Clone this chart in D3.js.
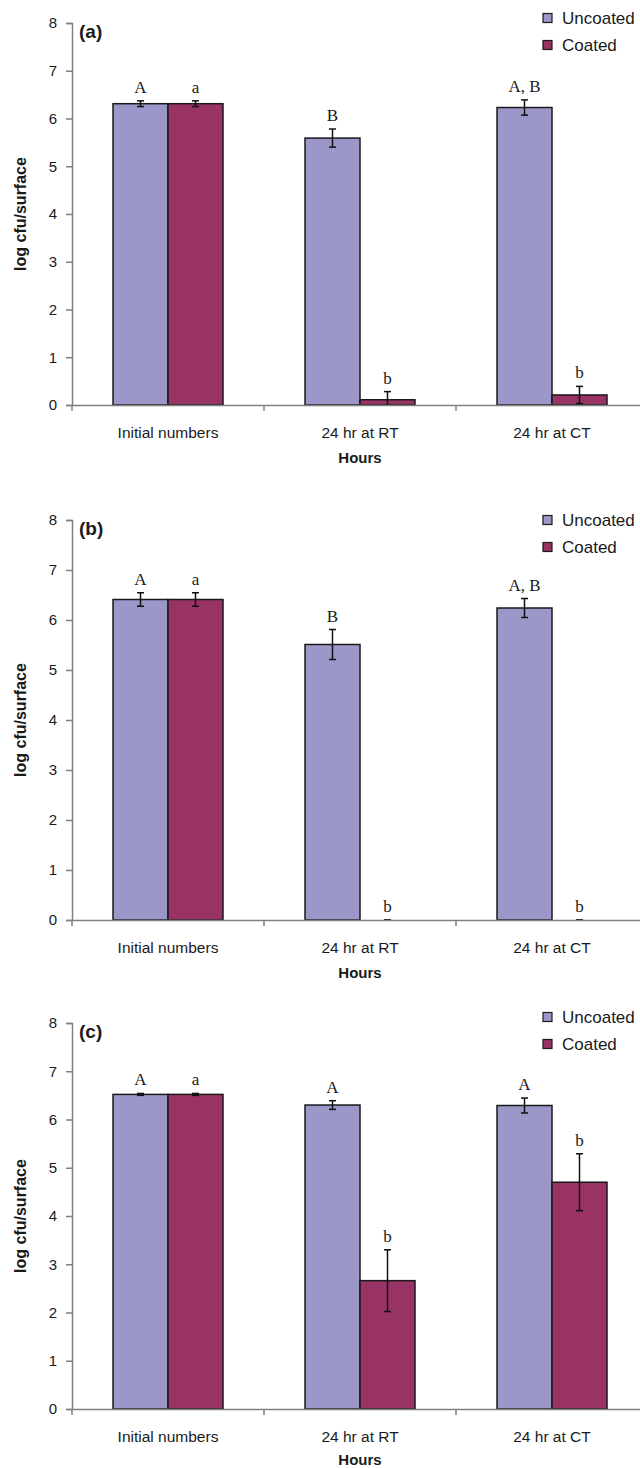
<!doctype html>
<html lang="en">
<head>
<meta charset="utf-8">
<title>log cfu/surface</title>
<script src="https://d3js.org/d3.v7.min.js"></script>
<style>
  body { margin: 0; background: #fff; }
  text { font-family: "Liberation Sans", Arial, sans-serif; fill: #1a1a1a; }
  .letter { font-family: "Liberation Serif", "Times New Roman", serif; font-size: 17px; }
</style>
</head>
<body>
<script>
// ---- data ----
var categories = ["Initial numbers", "24 hr at RT", "24 hr at CT"];
var series = ["Uncoated", "Coated"];
var panelLabels = ["(a)", "(b)", "(c)"];
var yTicks = [0, 1, 2, 3, 4, 5, 6, 7, 8];

var uncoatedA = [6.31, 5.59, 6.23];
var uncoatedErrA = [0.06, 0.19, 0.16];
var coatedA = [6.31, 0.11, 0.21];
var coatedErrA = [0.06, 0.17, 0.18];
var uncoatedLettersA = ["A", "B", "A, B"];
var coatedLettersA = ["a", "b", "b"];

var uncoatedB = [6.41, 5.51, 6.24];
var uncoatedErrB = [0.135, 0.30, 0.19];
var coatedB = [6.41, 0, 0];
var coatedErrB = [0.135, 0, 0];
var uncoatedLettersB = ["A", "B", "A, B"];
var coatedLettersB = ["a", "b", "b"];

var uncoatedC = [6.52, 6.30, 6.29];
var uncoatedErrC = [0.02, 0.09, 0.155];
var coatedC = [6.52, 2.66, 4.70];
var coatedErrC = [0.02, 0.64, 0.59];
var uncoatedLettersC = ["A", "A", "A"];
var coatedLettersC = ["a", "b", "b"];

var colors = ["#9b98c9", "#993366"];

// one entry per panel: values + where it sits on the page
var panels = [
  { label: panelLabels[0], top: 23, bottom: 405, legendY: 18, hoursY: 463,
    vals: [uncoatedA, coatedA], errs: [uncoatedErrA, coatedErrA], letters: [uncoatedLettersA, coatedLettersA] },
  { label: panelLabels[1], top: 520, bottom: 920, legendY: 520, hoursY: 978,
    vals: [uncoatedB, coatedB], errs: [uncoatedErrB, coatedErrB], letters: [uncoatedLettersB, coatedLettersB] },
  { label: panelLabels[2], top: 1023, bottom: 1409, legendY: 1017, hoursY: 1465,
    vals: [uncoatedC, coatedC], errs: [uncoatedErrC, coatedErrC], letters: [uncoatedLettersC, coatedLettersC] }
];

var width = 640, height = 1468;
var left = 72, right = 648;

var svg = d3.select("body").append("svg")
  .attr("width", width)
  .attr("height", height);

var x0 = d3.scaleBand().domain(categories).range([left, right]).padding(0);
var x1 = d3.scaleBand().domain(series).range([41, 151]).padding(0);

panels.forEach(function(p) {
  var y = d3.scaleLinear().domain([0, 8]).range([p.bottom, p.top]);
  var g = svg.append("g");

  // y axis
  var yAxis = g.append("g")
    .attr("transform", "translate(" + left + ",0)")
    .call(d3.axisLeft(y).tickValues(yTicks).tickSize(6).tickPadding(9).tickFormat(d3.format("d")));
  yAxis.select(".domain").attr("stroke", "#808080").attr("stroke-width", 1.5);
  yAxis.selectAll(".tick line").attr("stroke", "#808080").attr("stroke-width", 1.5);
  yAxis.selectAll(".tick text").style("font-size", "15px").attr("fill", "#1a1a1a");

  // bars
  var groups = g.selectAll(".grp")
    .data(categories)
    .enter().append("g")
    .attr("transform", function(d) { return "translate(" + x0(d) + ",0)"; });

  var rows = function(ci) {
    return series.map(function(s, si) {
      return { s: s, si: si, v: p.vals[si][ci], e: p.errs[si][ci], l: p.letters[si][ci] };
    });
  };

  var bar = groups.selectAll(".bar")
    .data(function(d, ci) { return rows(ci); })
    .enter().append("g");

  bar.append("rect")
    .attr("x", function(d) { return x1(d.s); })
    .attr("y", function(d) { return y(d.v); })
    .attr("width", x1.bandwidth())
    .attr("height", function(d) { return y(0) - y(d.v); })
    .attr("fill", function(d) { return colors[d.si]; })
    .attr("stroke", function(d) { return d.v > 0 ? "#1a1a1a" : "none"; })
    .attr("stroke-width", 1.5);

  // error bars
  var cx = function(d) { return x1(d.s) + x1.bandwidth() / 2; };
  var lo = function(d) { return y(Math.max(0, d.v - d.e)); };
  var hi = function(d) { return y(d.v + d.e); };
  bar.append("line")
    .attr("x1", cx).attr("x2", cx)
    .attr("y1", lo).attr("y2", hi)
    .attr("stroke", "#111").attr("stroke-width", 1.5);
  bar.append("line")
    .attr("x1", function(d) { return cx(d) - 3.5; }).attr("x2", function(d) { return cx(d) + 3.5; })
    .attr("y1", hi).attr("y2", hi)
    .attr("stroke", "#111").attr("stroke-width", 1.5);
  bar.append("line")
    .attr("x1", function(d) { return cx(d) - 3.5; }).attr("x2", function(d) { return cx(d) + 3.5; })
    .attr("y1", lo).attr("y2", lo)
    .attr("stroke", "#111").attr("stroke-width", 1.5);

  // significance letters
  bar.append("text")
    .attr("class", "letter")
    .attr("x", cx)
    .attr("y", function(d) { return hi(d) - 8; })
    .attr("text-anchor", "middle")
    .text(function(d) { return d.l; });

  // x axis
  var xAxis = g.append("g")
    .attr("transform", "translate(0," + p.bottom + ")")
    .call(d3.axisBottom(x0).tickSize(0).tickPadding(22));
  xAxis.select(".domain").attr("stroke", "#808080").attr("stroke-width", 1.5);
  xAxis.selectAll(".tick text").style("font-size", "15.5px").attr("fill", "#1a1a1a");
  g.selectAll(".xtick")
    .data(d3.range(categories.length + 1))
    .enter().append("line")
    .attr("x1", function(i) { return left + i * x0.bandwidth(); })
    .attr("x2", function(i) { return left + i * x0.bandwidth(); })
    .attr("y1", p.bottom)
    .attr("y2", p.bottom + 6)
    .attr("stroke", "#808080").attr("stroke-width", 1.5);

  // titles
  g.append("text")
    .attr("x", (left + right) / 2)
    .attr("y", p.hoursY)
    .attr("text-anchor", "middle")
    .style("font-size", "15px").style("font-weight", "bold")
    .text("Hours");

  g.append("text")
    .attr("transform", "translate(26," + ((p.top + p.bottom) / 2) + ") rotate(-90)")
    .attr("text-anchor", "middle")
    .style("font-size", "16px").style("font-weight", "bold")
    .text("log cfu/surface");

  g.append("text")
    .attr("x", 79)
    .attr("y", p.top + 15)
    .style("font-size", "19px").style("font-weight", "bold")
    .text(p.label);

  // legend
  var leg = g.selectAll(".leg")
    .data(series)
    .enter().append("g")
    .attr("transform", function(d, i) { return "translate(543," + (p.legendY + i * 27) + ")"; });
  leg.append("rect")
    .attr("x", 0).attr("y", -4.5)
    .attr("width", 9).attr("height", 9)
    .attr("fill", function(d, i) { return colors[i]; })
    .attr("stroke", "#1a1a1a").attr("stroke-width", 1.2);
  leg.append("text")
    .attr("x", 19)
    .attr("dy", "0.35em")
    .style("font-size", "17px")
    .text(function(d) { return d; });
});
</script>
</body>
</html>
